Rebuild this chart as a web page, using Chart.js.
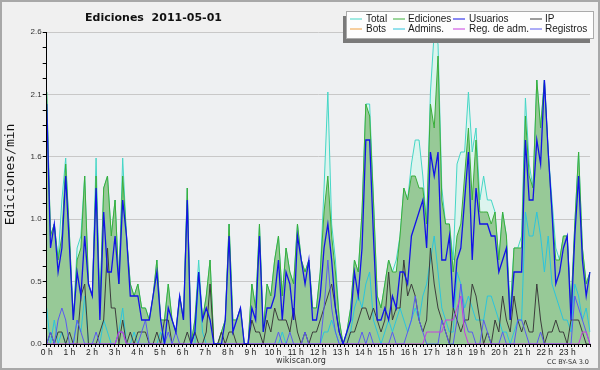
<!DOCTYPE html>
<html>
<head>
<meta charset="utf-8">
<title>Ediciones 2011-05-01</title>
<script src="https://cdn.jsdelivr.net/npm/chart.js@4.4.1/dist/chart.umd.min.js"></script>
<style>
  html, body { margin: 0; padding: 0; background: #f0f0f0; }
  canvas { display: block; }
</style>
</head>
<body>
<canvas id="chart" width="600" height="370"></canvas>
<script>
// hour tick labels (one every 6 slots of 10 min)
const hourLabels = ["0 h", "1 h", "2 h", "3 h", "4 h", "5 h", "6 h", "7 h", "8 h", "9 h", "10 h", "11 h",
  "12 h", "13 h", "14 h", "15 h", "16 h", "17 h", "18 h", "19 h", "20 h", "21 h", "22 h", "23 h"];
const minuteLabels = ["00", "10", "20", "30", "40", "50"];
const slots = hourLabels.flatMap((h, k) => minuteLabels.map((m) => `${k}:${m}`));

const yTickValues = [0, 0.13, 0.26, 0.39, 0.52, 0.65, 0.78, 0.91, 1.04, 1.17, 1.3, 1.43, 1.56,
  1.69, 1.82, 1.95, 2.08, 2.21, 2.34, 2.47, 2.6];
const yTickLabels = ["0.0", "0.5", "1.0", "1.6", "2.1", "2.6"];

// edits per minute, one value per 10 minutes
const total = [
  2.1, 0.9, 1.0, 0.7, 1.2, 1.55, 0.9, 0.2, 0.8, 0.9, 1.4, 0.5,
  0.4, 1.55, 0.3, 1.3, 1.4, 0.9, 1.2, 0.5, 1.55, 0.9, 0.5, 0.4,
  0.5, 0.3, 0.3, 0.2, 0.4, 0.7, 0.2, 0.2, 0.5, 0.2, 0.1, 0.4,
  0.2, 1.3, 0.0, 0.2, 0.7, 0.2, 0.4, 0.7, 0.0, 0.0, 0.1, 0.2,
  1.0, 0.2, 0.2, 0.3, 0.0, 0.0, 0.5, 0.3, 1.0, 0.1, 0.5, 0.4,
  0.7, 0.9, 0.4, 0.8, 0.6, 0.5, 1.0, 0.7, 0.6, 0.7, 0.3, 0.3,
  0.6, 1.3, 2.1, 1.0, 0.7, 0.2, 0.0, 0.1, 0.3, 0.7, 0.6, 1.1,
  2.0, 2.0, 1.2, 0.4, 0.3, 0.5, 0.7, 0.6, 0.7, 0.9, 1.3, 1.2,
  1.5, 1.7, 1.7, 1.4, 1.0, 2.1, 2.6, 2.5, 1.3, 1.0, 1.0, 0.7,
  1.5, 1.6, 1.6, 2.1, 1.6, 1.8, 1.2, 1.4, 1.2, 1.2, 1.1, 0.7,
  1.1, 0.9, 0.3, 0.8, 0.8, 0.9, 2.05, 1.5, 1.3, 2.2, 1.8, 2.2,
  1.6, 1.2, 0.8, 0.7, 0.9, 0.9, 0.3, 1.0, 1.6, 0.8, 0.5, 0.6
];
const ediciones = [
  2.1, 0.9, 1.0, 0.7, 0.9, 1.5, 0.9, 0.2, 0.7, 0.8, 1.4, 0.5,
  0.4, 1.4, 0.3, 1.3, 1.4, 0.9, 1.2, 0.5, 1.4, 0.9, 0.5, 0.4,
  0.5, 0.3, 0.3, 0.2, 0.4, 0.7, 0.2, 0.2, 0.5, 0.2, 0.1, 0.4,
  0.2, 1.3, 0.0, 0.2, 0.6, 0.2, 0.4, 0.7, 0.0, 0.0, 0.1, 0.2,
  1.0, 0.2, 0.2, 0.3, 0.0, 0.0, 0.5, 0.3, 1.0, 0.1, 0.5, 0.4,
  0.7, 0.9, 0.4, 0.8, 0.6, 0.5, 1.0, 0.7, 0.6, 0.7, 0.3, 0.3,
  0.6, 1.1, 1.4, 0.9, 0.6, 0.2, 0.0, 0.1, 0.3, 0.7, 0.6, 1.1,
  2.0, 1.9, 1.2, 0.4, 0.3, 0.5, 0.7, 0.6, 0.6, 0.9, 1.3, 1.2,
  1.4, 1.4, 1.3, 1.3, 1.0, 2.0, 1.8, 2.4, 1.2, 1.0, 1.0, 0.6,
  0.9, 1.0, 1.4, 1.8, 1.2, 1.7, 1.1, 1.1, 1.1, 1.0, 1.1, 0.7,
  1.1, 0.9, 0.2, 0.8, 0.8, 0.8, 1.9, 1.4, 1.3, 2.2, 1.8, 2.2,
  1.6, 1.1, 0.7, 0.7, 0.9, 0.9, 0.3, 1.0, 1.6, 0.8, 0.5, 0.6
];
const usuarios = [
  2.0, 0.8, 1.0, 0.6, 0.8, 1.4, 0.8, 0.2, 0.6, 0.4, 0.9, 0.5,
  0.4, 1.3, 0.2, 1.1, 0.6, 0.6, 0.9, 0.5, 1.2, 0.9, 0.4, 0.4,
  0.4, 0.2, 0.2, 0.2, 0.4, 0.6, 0.2, 0.0, 0.3, 0.2, 0.1, 0.4,
  0.2, 1.2, 0.0, 0.1, 0.6, 0.2, 0.3, 0.2, 0.0, 0.0, 0.0, 0.2,
  0.9, 0.1, 0.2, 0.3, 0.0, 0.0, 0.3, 0.2, 0.9, 0.1, 0.3, 0.3,
  0.4, 0.7, 0.2, 0.6, 0.5, 0.2, 0.9, 0.7, 0.5, 0.7, 0.2, 0.2,
  0.4, 0.8, 1.0, 0.7, 0.3, 0.1, 0.0, 0.1, 0.2, 0.6, 0.4, 0.8,
  1.7, 1.7, 0.9, 0.2, 0.2, 0.3, 0.2, 0.4, 0.3, 0.6, 0.6, 0.5,
  0.9, 1.0, 1.1, 1.2, 0.8, 1.6, 1.4, 1.6, 0.7, 0.7, 0.9, 0.3,
  0.7, 0.8, 1.2, 1.6, 0.7, 1.3, 1.0, 1.0, 1.0, 0.9, 0.9, 0.6,
  0.7, 0.8, 0.2, 0.6, 0.6, 0.6, 1.7, 1.2, 1.2, 1.7, 1.5, 2.2,
  1.6, 1.1, 0.5, 0.6, 0.8, 0.9, 0.2, 0.9, 1.4, 0.7, 0.4, 0.6
];
const ip = [
  0, 0.1, 0, 0.1, 0.1, 0, 0.1, 0, 0, 0.4, 0.5, 0,
  0, 0, 0.1, 0.2, 0.8, 0.3, 0.3, 0, 0.2, 0, 0.1, 0,
  0.1, 0.1, 0.1, 0, 0, 0.1, 0, 0.2, 0.2, 0, 0, 0,
  0, 0.1, 0, 0.1, 0, 0, 0.1, 0.5, 0, 0, 0.1, 0,
  0.1, 0.1, 0, 0, 0, 0, 0.2, 0.1, 0.1, 0, 0.2, 0.1,
  0.3, 0.2, 0.2, 0.2, 0.1, 0.3, 0.1, 0, 0.1, 0, 0.1, 0.1,
  0.2, 0.3, 0.4, 0.5, 0.3, 0.1, 0, 0, 0.1, 0.1, 0.2, 0.3,
  0.3, 0.2, 0.3, 0.2, 0.1, 0.2, 0.6, 0.2, 0.3, 0.3, 0.7, 0.4,
  0.5, 0.4, 0.2, 0.1, 0.2, 0.8, 0.5, 0.3, 0.2, 0.1, 0, 0.3,
  0.2, 0.1, 0.2, 0.2, 0.5, 0.4, 0.2, 0, 0.1, 0, 0.2, 0.1,
  0.4, 0.2, 0.1, 0.4, 0.2, 0.1, 0.2, 0.1, 0.1, 0.5, 0.2, 0,
  0.1, 0.1, 0.2, 0.1, 0.1, 0, 0.2, 0.2, 0.2, 0.1, 0, 0
];
const bots = []; // no bot edits that day, legend entry only
const admins = [
  0.3, 0, 0.2, 0, 0.1, 0, 0, 0, 0.2, 0.1, 0.4, 0,
  0, 0, 0, 0.2, 0.1, 0, 0, 0.1, 0.3, 0, 0, 0.1,
  0, 0, 0, 0, 0, 0, 0.1, 0, 0, 0, 0, 0,
  0, 0, 0, 0, 0.6, 0.1, 0, 0, 0, 0, 0, 0,
  0, 0, 0, 0, 0, 0, 0, 0, 0, 0, 0, 0,
  0, 0, 0.1, 0, 0, 0, 0, 0, 0, 0, 0, 0,
  0, 0.1, 0.1, 0.2, 0.1, 0, 0, 0, 0.1, 0.3, 0.4, 0.3,
  0.5, 0.6, 0.2, 0.1, 0, 0.1, 0.2, 0.1, 0.2, 0.3, 0.2, 0.1,
  0.2, 0.3, 0.2, 0.4, 0.5, 0.7, 0.9, 0.6, 0.3, 0.2, 0.1, 0.1,
  0.6, 0.5, 0.3, 0.4, 0.3, 0.2, 0.2, 0.2, 0.4, 0.4, 0.3, 0.2,
  0.1, 0.1, 0, 0.1, 0.2, 0.2, 1.1, 0.9, 0.9, 1.1, 0.9, 0.6,
  0.9, 0.5, 0.4, 0.3, 0.2, 0.2, 0.1, 0.5, 0.4, 0.2, 0.3, 0.1
];
const regAdm = [
  0, 0, 0, 0, 0, 0, 0, 0, 0, 0, 0, 0,
  0, 0, 0, 0, 0, 0, 0, 0.1, 0.1, 0, 0, 0,
  0, 0, 0, 0, 0, 0, 0, 0, 0, 0, 0, 0,
  0, 0, 0, 0, 0, 0, 0, 0, 0, 0, 0, 0,
  0, 0, 0, 0, 0, 0, 0, 0, 0, 0, 0, 0,
  0, 0, 0, 0, 0, 0, 0, 0, 0, 0, 0, 0,
  0, 0, 0, 0, 0, 0, 0, 0, 0, 0, 0, 0,
  0, 0, 0, 0, 0, 0, 0, 0, 0, 0, 0, 0,
  0, 0, 0, 0, 0.1, 0.1, 0.1, 0.1, 0.1, 0.2, 0.2, 0.2,
  0.3, 0.4, 0.1, 0, 0, 0, 0, 0, 0, 0, 0, 0,
  0, 0, 0, 0, 0, 0, 0, 0, 0, 0, 0, 0,
  0, 0, 0, 0, 0, 0, 0, 0, 0, 0.1, 0.1, 0
];
const registros = [
  0, 0.1, 0, 0.2, 0.3, 0.2, 0, 0, 0.2, 0.1, 0, 0,
  0, 0.1, 0, 0, 0, 0, 0, 0.1, 0.1, 0, 0, 0,
  0, 0.1, 0.2, 0, 0, 0, 0, 0, 0.1, 0, 0.1, 0,
  0, 0, 0, 0, 0, 0, 0, 0, 0, 0, 0, 0,
  0, 0, 0, 0, 0, 0, 0, 0, 0, 0, 0, 0,
  0, 0.1, 0, 0, 0.1, 0, 0, 0, 0.1, 0, 0, 0,
  0, 0.3, 0.7, 0.3, 0.1, 0, 0, 0, 0, 0, 0, 0.1,
  0, 0.1, 0, 0, 0, 0, 0, 0.1, 0, 0, 0, 0.1,
  0.2, 0.4, 0.2, 0.1, 0, 0, 0, 0, 0.2, 0.1, 0, 0,
  0.2, 0.5, 0.2, 0.1, 0.1, 0, 0, 0.2, 0.1, 0, 0, 0,
  0.1, 0, 0, 0, 0.2, 0.2, 0.1, 0, 0, 0, 0.1, 0,
  0, 0, 0, 0, 0, 0, 0, 0.4, 0.3, 0.2, 0.1, 0
];

const plotBg = "#eef0f2";

function line(label, data, color, order, extra = {}) {
  return Object.assign({
    label, data, order,
    borderColor: color,
    backgroundColor: color,
    borderWidth: 1,
    pointRadius: 0,
    tension: 0,
    fill: false
  }, extra);
}

// legend order as in the picture: two rows of four
const datasets = [
  line("Total", total, "#45d6c6", 10, { fill: "origin", backgroundColor: "#dcf4ee" }),
  line("Ediciones", ediciones, "#3aae3a", 9, { fill: "origin", backgroundColor: "#97c997" }),
  line("Usuarios", usuarios, "#1212e8", 1, { borderWidth: 1.3 }),
  line("IP", ip, "#3c3c3c", 5),
  line("Bots", bots, "#f0a040", 7),
  line("Admins.", admins, "#2cc4dc", 6),
  line("Reg. de adm.", regAdm, "#c83ce0", 3),
  line("Registros", registros, "#5a5af0", 4)
];

const decor = {
  id: "decor",
  beforeDraw(chart) {
    const { ctx, chartArea: a } = chart;
    ctx.save();
    ctx.fillStyle = "#f0f0f0";
    ctx.fillRect(0, 0, chart.width, chart.height);
    ctx.fillStyle = plotBg;
    ctx.fillRect(a.left, a.top, a.right - a.left, a.bottom - a.top);
    ctx.restore();
  },
  afterDatasetsDraw(chart) {
    // axis lines stay above the series lying on zero
    const { ctx, chartArea: a } = chart;
    ctx.save();
    ctx.strokeStyle = "#000";
    ctx.lineWidth = 1;
    ctx.beginPath();
    ctx.moveTo(Math.round(a.left) - 0.5, a.top);
    ctx.lineTo(Math.round(a.left) - 0.5, a.bottom + 0.5);
    ctx.lineTo(a.right, a.bottom + 0.5);
    ctx.stroke();
    ctx.restore();
  },
  afterDraw(chart) {
    const { ctx } = chart;
    ctx.save();
    // frame
    ctx.strokeStyle = "#a8a8a8";
    ctx.lineWidth = 2;
    ctx.strokeRect(1, 1, chart.width - 2, chart.height - 2);

    // title
    ctx.fillStyle = "#111";
    ctx.font = "bold 11px 'DejaVu Sans'";
    ctx.textAlign = "center";
    ctx.textBaseline = "alphabetic";
    ctx.fillText("Ediciones  2011-05-01", 153.5, 20.5);

    // y axis title
    ctx.save();
    ctx.translate(10.5, 174.5);
    ctx.rotate(-Math.PI / 2);
    ctx.font = "13px 'DejaVu Sans Mono'";
    ctx.textBaseline = "middle";
    ctx.fillStyle = "#111";
    ctx.fillText("Ediciones/min", 0, 0);
    ctx.restore();

    // footer
    ctx.font = "8px 'DejaVu Sans'";
    ctx.fillStyle = "#333";
    ctx.textBaseline = "middle";
    ctx.fillText("wikiscan.org", 301, 361);
    ctx.textAlign = "right";
    ctx.font = "6.5px 'DejaVu Sans'";
    ctx.fillText("CC BY-SA 3.0", 589, 362);

    // legend box with its shadow
    ctx.fillStyle = "#7a7a7a";
    ctx.fillRect(343, 16, 247, 27);
    ctx.fillStyle = "#fdfdfd";
    ctx.fillRect(347, 12, 247, 27);
    ctx.strokeStyle = "#aaaaaa";
    ctx.lineWidth = 1;
    ctx.strokeRect(346.5, 11.5, 247, 27);

    const sampleX = [350, 393, 453, 530];
    const labelX = [366, 408, 469, 545];
    const rowY = [19, 29];
    ctx.font = "10px 'Liberation Sans'";
    ctx.textAlign = "left";
    chart.data.datasets.forEach((ds, i) => {
      const col = i % 4, row = Math.floor(i / 4);
      const y = rowY[row];
      ctx.strokeStyle = ds.borderColor;
      ctx.lineWidth = 1;
      ctx.beginPath();
      ctx.moveTo(sampleX[col], y);
      ctx.lineTo(sampleX[col] + 12, y);
      ctx.stroke();
      ctx.fillStyle = "#1a1a1a";
      ctx.fillText(ds.label, labelX[col], y);
    });
    ctx.restore();
  }
};

new Chart(document.getElementById("chart"), {
  type: "line",
  data: { labels: slots, datasets },
  plugins: [decor],
  options: {
    responsive: false,
    animation: false,
    devicePixelRatio: 1,
    layout: { padding: { left: 0, right: 10, top: 32, bottom: 0 } },
    plugins: { legend: { display: false }, title: { display: false }, tooltip: { enabled: false } },
    scales: {
      x: { type: "category", display: false },
      xh: {
        type: "linear",
        position: "bottom",
        min: 0,
        max: 24,
        afterBuildTicks(scale) {
          const ticks = [];
          for (let m = 0; m <= 24 * 6; m++) ticks.push({ value: m / 6 });
          scale.ticks = ticks;
        },
        afterFit(scale) { scale.height = 26; },
        grid: { drawOnChartArea: false, tickLength: 3, tickColor: "#000", lineWidth: 1 },
        border: { display: true, color: "#000" },
        ticks: {
          autoSkip: false,
          maxRotation: 0,
          minRotation: 0,
          padding: 1,
          color: "#222",
          font: { family: "'Liberation Sans'", size: 8.5 },
          callback: (v, i) => (i % 6 === 0 && i / 6 < hourLabels.length ? hourLabels[i / 6] : "")
        }
      },
      y: {
        min: 0,
        max: 2.6,
        afterBuildTicks(scale) { scale.ticks = yTickValues.map((v) => ({ value: v })); },
        afterFit(scale) { scale.width = 46.7; },
        grid: {
          color: (c) => (c.index % 4 === 0 ? "#c8c8c8" : "rgba(0,0,0,0)"),
          tickColor: "#000",
          tickLength: 4
        },
        border: { display: true, color: "#000" },
        ticks: {
          autoSkip: false,
          padding: 1,
          color: "#333",
          font: { family: "'Liberation Sans'", size: 8 },
          callback: (v, i) => (i % 4 === 0 ? yTickLabels[i / 4] : "")
        }
      }
    }
  }
});
</script>
</body>
</html>
